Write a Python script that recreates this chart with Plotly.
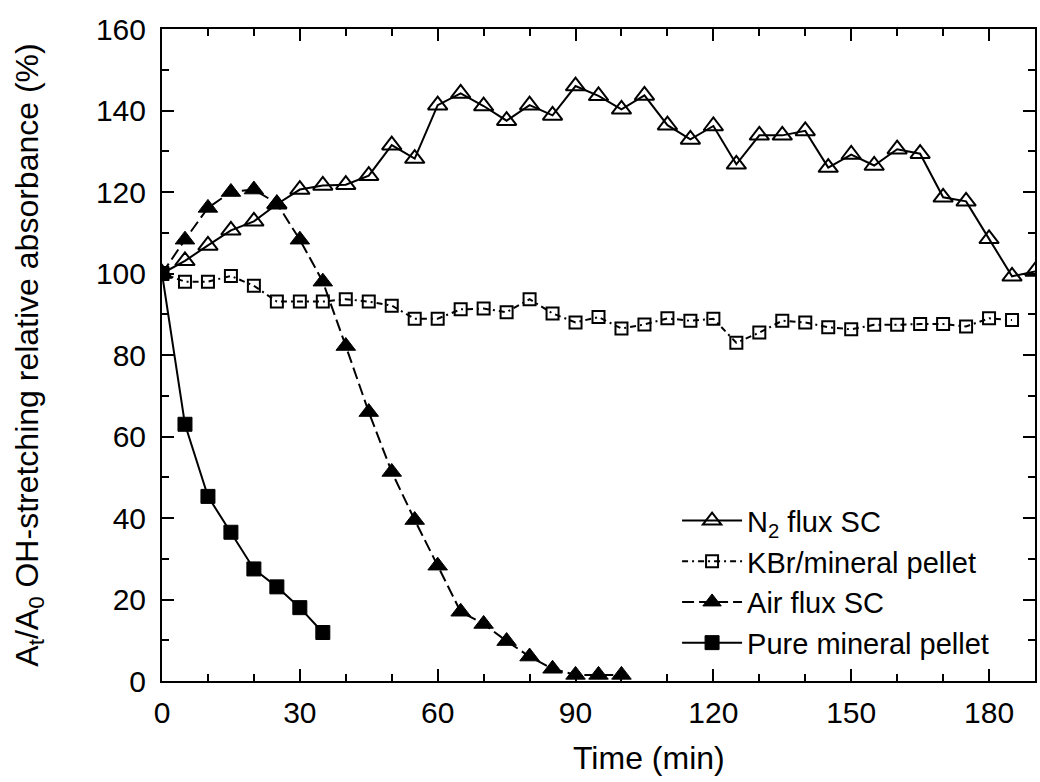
import plotly.graph_objects as go

time_n2 = list(range(0, 195, 5))
n2_flux = [100, 103.1, 106.9, 110.6, 112.8, 117.0, 120.6, 121.6, 121.8, 124.0,
           131.5, 128.2, 141.3, 144.2, 141.1, 137.5, 141.3, 138.8, 146.0, 143.6,
           140.3, 143.7, 136.4, 132.9, 136.2, 126.8, 133.9, 133.9, 135.0, 126.0,
           129.2, 126.5, 130.5, 129.4, 118.7, 117.7, 108.5, 99.3, 100.5]

time_kbr = list(range(0, 190, 5))
kbr_pellet = [100, 98.0, 98.0, 99.4, 97.0, 93.1, 93.1, 93.1, 93.7, 93.1,
              92.1, 88.9, 88.9, 91.2, 91.4, 90.5, 93.7, 90.2, 88.0, 89.3,
              86.5, 87.5, 89.0, 88.4, 88.9, 83.0, 85.5, 88.4, 88.0, 86.8,
              86.3, 87.4, 87.4, 87.6, 87.6, 87.0, 89.0, 88.6]

time_air = list(range(0, 105, 5))
air_flux = [100, 108.3, 116.1, 120.0, 120.6, 117.2, 108.3, 98.0, 82.2, 66.0,
            51.3, 39.5, 28.3, 17.0, 14.0, 9.8, 6.0, 3.0, 1.5, 1.5, 1.5]

time_pure = list(range(0, 40, 5))
pure_pellet = [100, 63.0, 45.3, 36.5, 27.5, 23.1, 18.0, 11.9]

x_ticks = [0, 30, 60, 90, 120, 150, 180]
y_ticks = [0, 20, 40, 60, 80, 100, 120, 140, 160]

x_title = "Time (min)"
y_title = "A<sub>t</sub>/A<sub>0</sub> OH-stretching relative absorbance (%)"

font_main = "Liberation Sans, Arial, sans-serif"

fig = go.Figure()

fig.add_trace(go.Scatter(
    x=time_n2, y=n2_flux, name="N<sub>2</sub> flux SC", mode="lines+markers",
    line=dict(color="black", width=2),
    marker=dict(symbol="triangle-up-open", size=17, color="black",
                line=dict(width=2, color="black"))))

fig.add_trace(go.Scatter(
    x=time_kbr, y=kbr_pellet, name="KBr/mineral pellet", mode="lines+markers",
    line=dict(color="black", width=2, dash="6px,4px,2px,4px"),
    marker=dict(symbol="square-open", size=12, color="black",
                line=dict(width=2, color="black"))))

fig.add_trace(go.Scatter(
    x=time_air, y=air_flux, name="Air flux SC", mode="lines+markers",
    line=dict(color="black", width=2, dash="12px,5px"),
    marker=dict(symbol="triangle-up", size=17, color="black",
                line=dict(width=1, color="black"))))

fig.add_trace(go.Scatter(
    x=time_pure, y=pure_pellet, name="Pure mineral pellet", mode="lines+markers",
    line=dict(color="black", width=2),
    marker=dict(symbol="square", size=14, color="black",
                line=dict(width=1, color="black"))))

axis_common = dict(
    showline=True, linecolor="black", linewidth=2, mirror="ticks",
    ticks="inside", ticklen=12, tickwidth=2, tickcolor="black",
    showgrid=False, zeroline=False,
    tickfont=dict(family=font_main, size=30, color="black"),
)

fig.update_xaxes(
    range=[0, 190], tickvals=x_ticks, ticklabelstandoff=4,
    minor=dict(dtick=10, ticks="inside", ticklen=7, tickwidth=2, tickcolor="black"),
    **axis_common)

fig.update_yaxes(
    range=[0, 160], tickvals=y_ticks, ticklabelstandoff=8,
    minor=dict(dtick=10, ticks="inside", ticklen=7, tickwidth=2, tickcolor="black"),
    title=dict(text=y_title,
               font=dict(family=font_main, size=32, color="black"),
               standoff=48),
    **axis_common)

fig.add_annotation(
    text=x_title, xref="paper", yref="paper", x=0.558, y=-0.118,
    xanchor="center", yanchor="middle", showarrow=False,
    font=dict(family=font_main, size=32, color="black"))

fig.update_layout(
    width=1040, height=782,
    margin=dict(l=162, r=3, t=29, b=101),
    plot_bgcolor="white", paper_bgcolor="white",
    showlegend=True,
    legend=dict(x=0.59, y=0.285, xanchor="left", yanchor="top",
                bgcolor="rgba(0,0,0,0)", borderwidth=0,
                font=dict(family=font_main, size=29, color="black"),
                tracegroupgap=0, itemwidth=60),
)

fig.write_html("out.html")
